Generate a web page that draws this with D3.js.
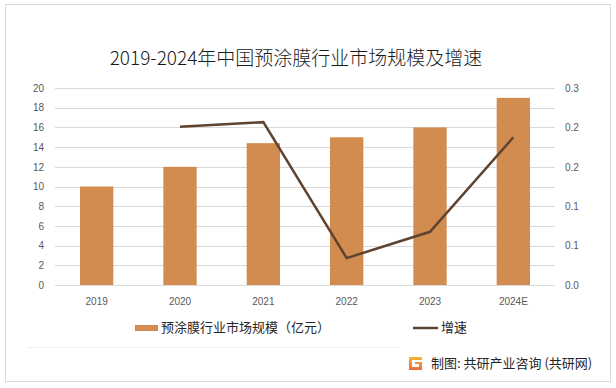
<!DOCTYPE html>
<html lang="zh">
<head>
    <meta charset="utf-8">
    <script src="https://d3js.org/d3.v7.min.js"></script>
    <style type="text/css">
        body {
            margin: 0;
            background: #fff;
            overflow: hidden;
            font-family: "Noto Sans CJK SC", "Noto Sans", sans-serif;
        }
        .tick text {
            fill: #595959;
            font-size: 10px;
        }
    </style>
</head>
<body>
<svg id="chart"></svg>
<script type="text/javascript">
    var years = ["2019", "2020", "2021", "2022", "2023", "2024E"];
    var marketSize = [10, 12, 14.4, 15, 16, 19];
    var growthYears = ["2020", "2021", "2022", "2023", "2024E"];
    var growthRate = [0.241, 0.248, 0.041, 0.081, 0.225];
    var leftTicks = [0, 2, 4, 6, 8, 10, 12, 14, 16, 18, 20];
    var rightTicks = [0, 0.06, 0.12, 0.18, 0.24, 0.3];

    var width = 616;
    var height = 388;

    var svg = d3.select("#chart")
        .attr("width", width)
        .attr("height", height);

    // outer frame
    svg.append("rect")
        .attr("x", 5.5).attr("y", 4.5)
        .attr("width", 605).attr("height", 377)
        .attr("fill", "#fff")
        .attr("stroke", "#d9d9d9");

    svg.append("text")
        .attr("x", 296).attr("y", 65)
        .attr("text-anchor", "middle")
        .attr("font-size", "19px")
        .attr("font-weight", 300)
        .attr("fill", "#1a1a1a")
        .text("2019-2024年中国预涂膜行业市场规模及增速");

    var x = d3.scaleBand()
        .domain(years)
        .range([55, 555])
        .paddingInner(0.6)
        .paddingOuter(0.3);

    var yLeft = d3.scaleLinear().domain([0, 20]).range([285, 88]);
    var yRight = d3.scaleLinear().domain([0, 0.3]).range([285, 88]);

    // gridlines
    svg.append("g")
        .selectAll("line")
        .data(leftTicks)
        .join("line")
        .attr("x1", 55).attr("x2", 555)
        .attr("y1", function(d) { return Math.round(yLeft(d)) + 0.5; })
        .attr("y2", function(d) { return Math.round(yLeft(d)) + 0.5; })
        .attr("stroke", "#d9d9d9")
        .attr("stroke-width", 1);

    var leftAxis = svg.append("g")
        .attr("transform", "translate(55,0)")
        .call(d3.axisLeft(yLeft).tickValues(leftTicks).tickSize(0).tickPadding(11));
    leftAxis.select(".domain").remove();

    var rightAxis = svg.append("g")
        .attr("transform", "translate(555,0)")
        .call(d3.axisRight(yRight).tickValues(rightTicks).tickSize(0).tickPadding(10)
            .tickFormat(d3.format(".1f")));
    rightAxis.select(".domain").remove();

    var xAxis = svg.append("g")
        .attr("transform", "translate(0,285)")
        .call(d3.axisBottom(x).tickSize(0).tickPadding(13));
    xAxis.select(".domain").remove();
    xAxis.selectAll("text").attr("fill", "#262626").attr("font-size", "11px");

    svg.append("g")
        .selectAll("rect")
        .data(marketSize)
        .join("rect")
        .attr("x", function(d, i) { return x(years[i]); })
        .attr("y", function(d) { return yLeft(d); })
        .attr("width", x.bandwidth())
        .attr("height", function(d) { return yLeft(0) - yLeft(d); })
        .attr("fill", "#d38c4f");

    var line = d3.line()
        .x(function(d, i) { return x(growthYears[i]) + x.bandwidth() / 2; })
        .y(function(d) { return yRight(d); });

    svg.append("path")
        .datum(growthRate)
        .attr("d", line)
        .attr("fill", "none")
        .attr("stroke", "#5e4330")
        .attr("stroke-width", 2.5);

    // legend
    var legend = svg.append("g").attr("font-size", "13px").attr("fill", "#262626");
    legend.append("rect")
        .attr("x", 135).attr("y", 325)
        .attr("width", 23).attr("height", 6)
        .attr("fill", "#d38c4f");
    legend.append("text")
        .attr("x", 161).attr("y", 332)
        .text("预涂膜行业市场规模（亿元）");
    legend.append("line")
        .attr("x1", 413).attr("x2", 438)
        .attr("y1", 328).attr("y2", 328)
        .attr("stroke", "#5e4330")
        .attr("stroke-width", 2.5);
    legend.append("text")
        .attr("x", 441).attr("y", 332)
        .text("增速");

    // footer
    svg.append("line")
        .attr("x1", 27).attr("x2", 400)
        .attr("y1", 347.5).attr("y2", 347.5)
        .attr("stroke", "#f0f0f0");

    var grad = svg.append("defs").append("linearGradient")
        .attr("id", "logoGrad")
        .attr("x1", "0").attr("y1", "0").attr("x2", "0").attr("y2", "1");
    grad.append("stop").attr("offset", "0").attr("stop-color", "#f7b33a");
    grad.append("stop").attr("offset", "1").attr("stop-color", "#ef6a3c");

    var logo = svg.append("g").attr("transform", "translate(409,357)");
    logo.append("path")
        .attr("d", "M0,0 H13 V3 H3 V10 H10 V7 H6 V5 H13 V13 H0 Z")
        .attr("fill", "url(#logoGrad)");

    svg.append("text")
        .attr("x", 431).attr("y", 368)
        .attr("font-size", "13px")
        .attr("fill", "#262626")
        .text("制图: 共研产业咨询 (共研网)");
</script>
</body>
</html>
